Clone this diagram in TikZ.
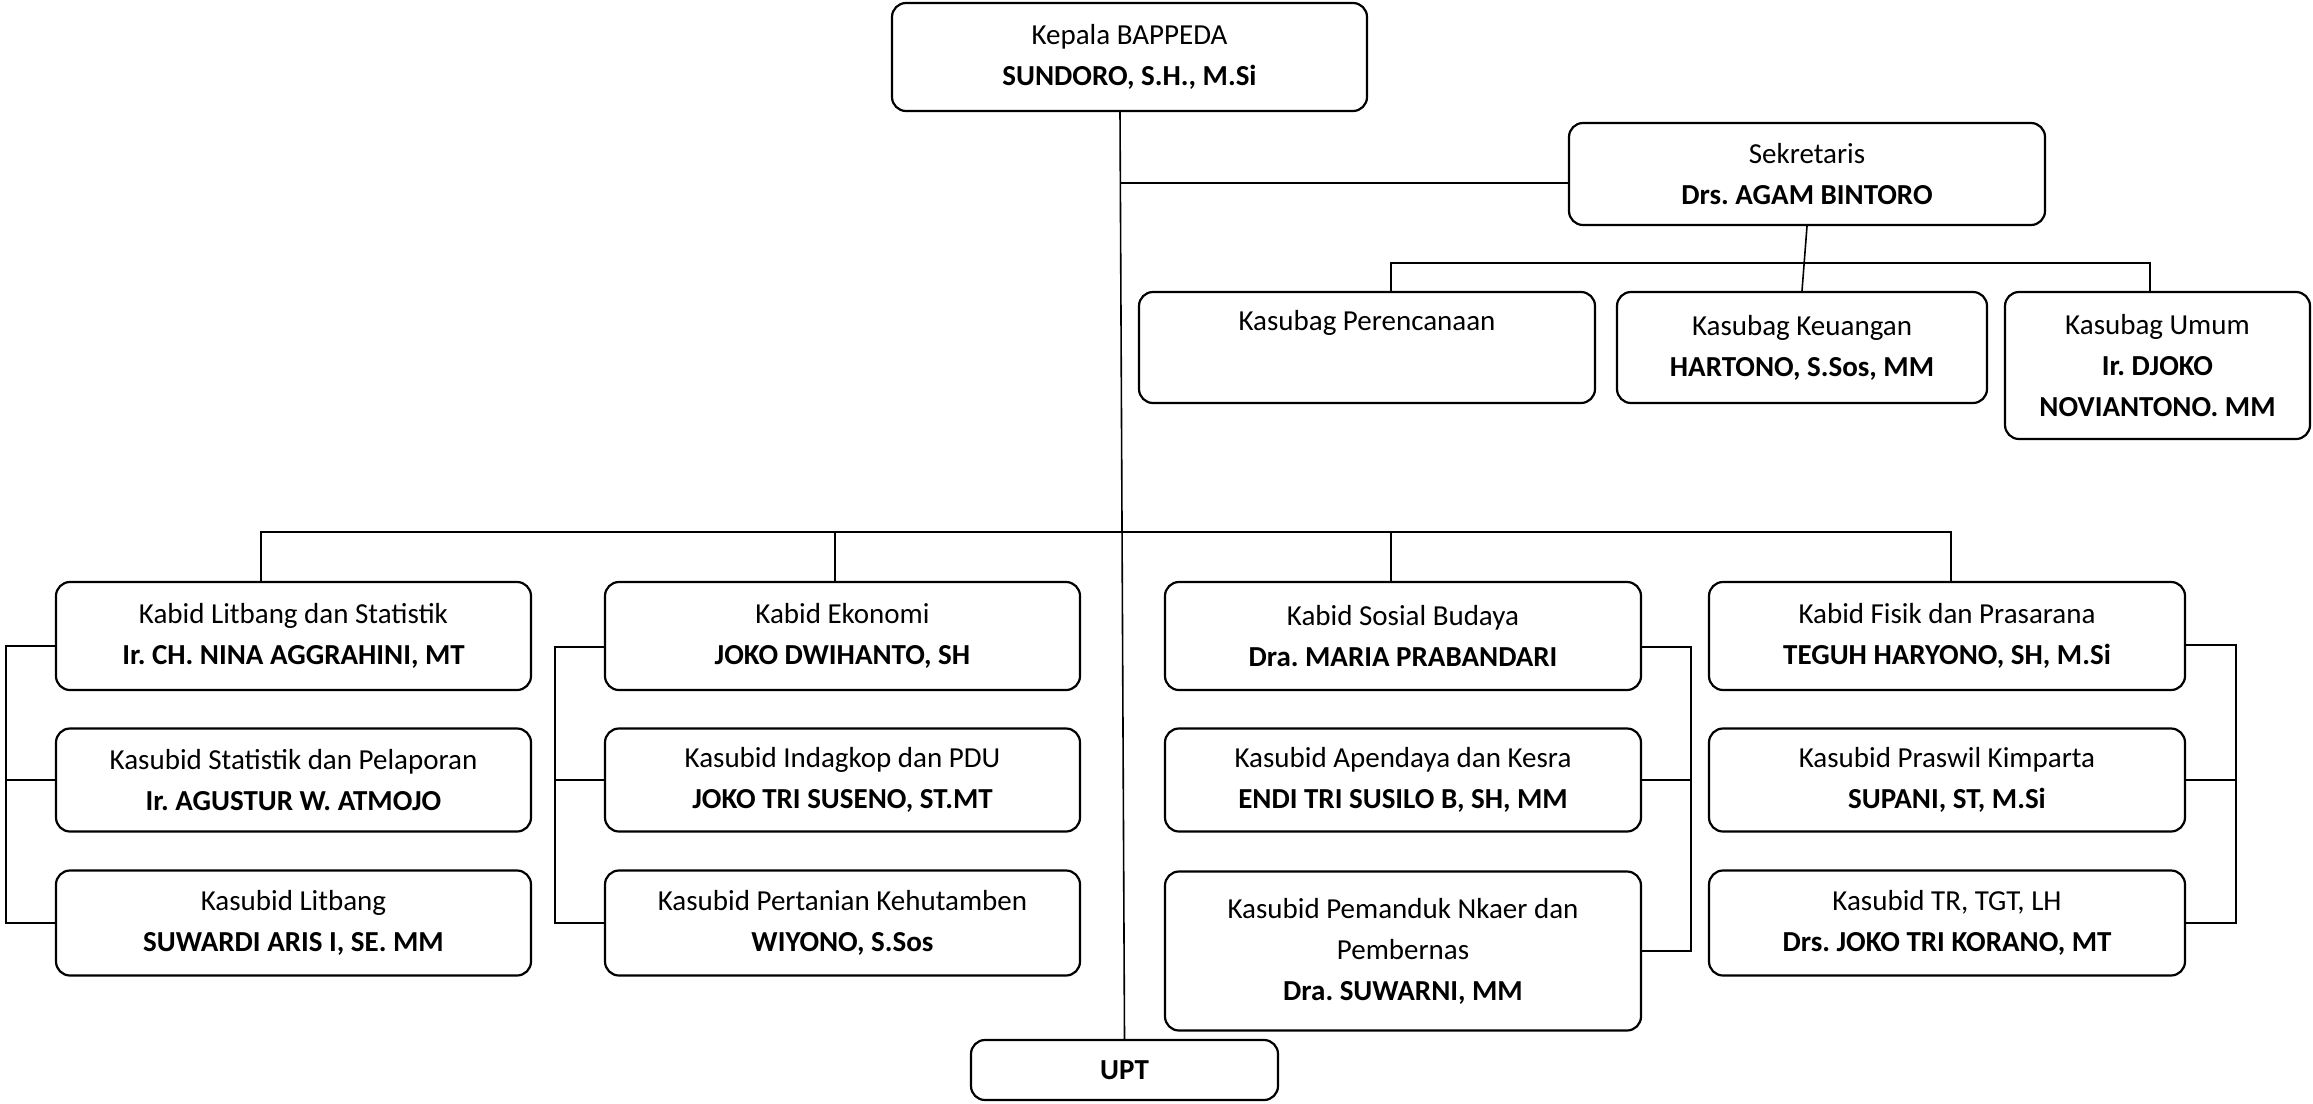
\documentclass[tikz,border=0pt]{standalone}
\usepackage{fontspec}
\setmainfont{Carlito}
\usepackage{tikz}
\usetikzlibrary{positioning}
\frenchspacing

\begin{document}
\begin{tikzpicture}[x=0.5pt,y=-0.5pt,node distance=72pt,on grid]
  \tikzset{kotak/.style={draw,rounded corners=7pt,line width=1.1pt,align=center,
      inner sep=2pt,font=\fontsize{14.5}{20.5}\selectfont}}
  \tikzset{kabid/.style={kotak,minimum width=237.5pt,minimum height=54pt}}
  \tikzset{kasubid/.style={kotak,minimum width=237.5pt,minimum height=51.5pt}}
  \tikzset{garis/.style={line width=0.8pt}}
  \useasboundingbox (0,0) rectangle (2313,1103);

  % pimpinan dan sekretariat
  \node[kotak,minimum width=237.5pt,minimum height=54pt] (kepala) at (1129.5,57)
       {Kepala BAPPEDA\\\textbf{SUNDORO, S.H., M.Si}};
  \node[kotak,minimum width=238pt,minimum height=51pt] (sekretaris) at (1807,174)
       {Sekretaris\\\textbf{Drs. AGAM BINTORO}};
  \node[kotak,minimum width=228pt,minimum height=55.5pt] (perenc) at (1367,347.5)
       {Kasubag Perencanaan\\\strut};
  \node[kotak,minimum width=185pt,minimum height=55.5pt] (keu) at (1802,347.5)
       {Kasubag Keuangan\\\textbf{HARTONO, S.Sos, MM}};
  \node[kotak,minimum width=152.5pt,minimum height=73.5pt] (umum) at (2157.5,365.5)
       {Kasubag Umum\\\textbf{Ir. DJOKO}\\\textbf{NOVIANTONO. MM}};

  % bidang
  \node[kabid] (kb1) at (293.5,636) {Kabid Litbang dan Statistik\\\textbf{Ir. CH. NINA AGGRAHINI, MT}};
  \node[kasubid] (ks12) [below=of kb1] {Kasubid Statistik dan Pelaporan\\\textbf{Ir. AGUSTUR W. ATMOJO}};
  \node[kasubid,minimum height=52.5pt] (ks13) [below=71.5pt of ks12] {Kasubid Litbang\\\textbf{SUWARDI ARIS I, SE. MM}};

  \node[kabid] (kb2) at (842.5,636) {Kabid Ekonomi\\\textbf{JOKO DWIHANTO, SH}};
  \node[kasubid] (ks22) [below=of kb2] {Kasubid Indagkop dan PDU\\\textbf{JOKO TRI SUSENO, ST.MT}};
  \node[kasubid,minimum height=52.5pt] (ks23) [below=71.5pt of ks22] {Kasubid Pertanian Kehutamben\\\textbf{WIYONO, S.Sos}};

  \node[kabid,minimum width=238pt] (kb3) at (1403,636) {Kabid Sosial Budaya\\\textbf{Dra. MARIA PRABANDARI}};
  \node[kasubid,minimum width=238pt] (ks32) [below=of kb3] {Kasubid Apendaya dan Kesra\\\textbf{ENDI TRI SUSILO B, SH, MM}};
  \node[kasubid,minimum width=238pt,minimum height=79.5pt] (ks33) [below=85.5pt of ks32]
       {Kasubid Pemanduk Nkaer dan\\Pembernas\\\textbf{Dra. SUWARNI, MM}};

  \node[kabid,minimum width=238pt] (kb4) at (1947,636) {Kabid Fisik dan Prasarana\\\textbf{TEGUH HARYONO, SH, M.Si}};
  \node[kasubid,minimum width=238pt] (ks42) [below=of kb4] {Kasubid Praswil Kimparta\\\textbf{SUPANI, ST, M.Si}};
  \node[kasubid,minimum width=238pt,minimum height=52.5pt] (ks43) [below=71.5pt of ks42] {Kasubid TR, TGT, LH\\\textbf{Drs. JOKO TRI KORANO, MT}};

  \node[kotak,minimum width=153.5pt,minimum height=30pt] (upt) at (1124.5,1070) {\textbf{UPT}};

  % garis komando
  \coordinate (sbar) at (1806,263);
  \coordinate (bar) at (1122,532);
  \draw[garis] ([xshift=-4.75pt]kepala.south) -- (upt.north);
  \draw[garis] ([yshift=-4.5pt]sekretaris.west) -- ++(-448,0);
  \draw[garis] (sekretaris.south) -- (keu.north);
  \draw[garis] ([xshift=12pt]perenc.north) |- (sbar) -| ([xshift=-3.75pt]umum.north);
  \draw[garis] ([xshift=-16.25pt]kb1.north) |- (bar) -| ([xshift=2pt]kb4.north);
  \draw[garis] ([xshift=-3.75pt]kb2.north) -- ++(0,-50);
  \draw[garis] ([xshift=-6pt]kb3.north) -- ++(0,-50);

  \draw[garis] ([yshift=-5pt]kb1.west) -- ++(-49,0) |- (ks13.west);
  \draw[garis] (ks12.west) -- ++(-49,0);
  \draw[garis] ([yshift=-5.5pt]kb2.west) -- ++(-49,0) |- (ks23.west);
  \draw[garis] (ks22.west) -- ++(-49,0);
  \draw[garis] ([yshift=-5.5pt]kb3.east) -- ++(49,0) |- (ks33.east);
  \draw[garis] (ks32.east) -- ++(49,0);
  \draw[garis] ([yshift=-4.5pt]kb4.east) -- ++(50,0) |- (ks43.east);
  \draw[garis] (ks42.east) -- ++(50,0);
\end{tikzpicture}
\end{document}
